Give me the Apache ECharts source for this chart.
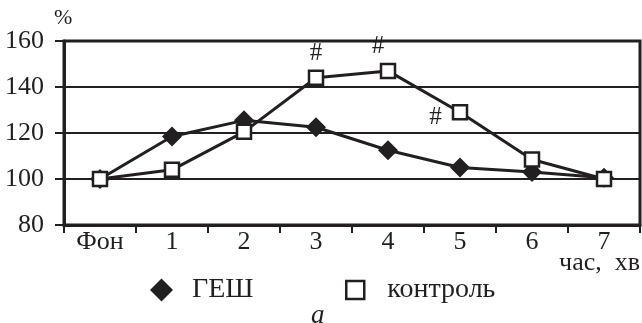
<!DOCTYPE html>
<html><head><meta charset="utf-8">
<script src="https://cdn.jsdelivr.net/npm/echarts@6/dist/echarts.min.js"></script>
<style>html,body{margin:0;padding:0;background:#fff}#c{width:642px;height:323px}</style>
</head><body><div id="c"></div>
<script>
const categories = ['Фон','1','2','3','4','5','6','7'];
const gesh = [100, 118.5, 125.5, 122.5, 112.5, 105, 103, 100.5];
const control = [100, 104, 120.5, 144, 147, 129, 108.5, 100];
const marks = {3:'top', 4:'top', 5:'left'};
const FONT = '"Liberation Serif", "DejaVu Serif", serif';
const INK = '#231f20';
const controlData = control.map((v,i)=>{
  if(marks[i]){
    return {value:v, label:{show:true, formatter:'#', position:marks[i],
      distance: marks[i]==='left'?10:4, offset: i===4?[-10,0]:(i===5?[0,5]:[0,0]),
      fontFamily:FONT, fontSize:25, color:INK}};
  }
  return v;
});
const chart = echarts.init(document.getElementById('c'));
chart.setOption({
  animation:false,
  grid:{left:64,right:2,top:41,bottom:98,show:true,borderColor:INK,borderWidth:3,
    containLabel:false,outerBoundsMode:'none'},
  xAxis:{type:'category',data:categories,boundaryGap:true,
    axisLine:{lineStyle:{color:INK,width:3}},
    axisTick:{show:true,interval:0,length:8,lineStyle:{color:INK,width:2}},
    axisLabel:{fontFamily:FONT,fontSize:26,color:INK,margin:4,interval:0}
  },
  yAxis:{type:'value',min:80,max:160,interval:20,
    axisLine:{show:true,lineStyle:{color:INK,width:3}},
    axisTick:{show:true,length:9,lineStyle:{color:INK,width:2}},
    axisLabel:{fontFamily:FONT,fontSize:26,color:INK,margin:20},
    splitLine:{lineStyle:{color:INK,width:2}},
    name:'%',nameLocation:'end',nameGap:12,
    nameTextStyle:{fontFamily:FONT,fontSize:22,color:INK,align:'left',padding:[0,0,0,-10]}
  },
  legend:[
    {left:150,top:276,padding:0,itemWidth:23,itemHeight:23,selectedMode:false,
      textStyle:{fontFamily:FONT,fontSize:28,color:INK,padding:[0,0,0,14]},
      data:[{name:'ГЕШ',icon:'diamond',itemStyle:{color:INK,borderWidth:0}}]},
    {left:345,top:276,padding:0,itemWidth:18,itemHeight:18,selectedMode:false,
      textStyle:{fontFamily:FONT,fontSize:28,color:INK,padding:[0,0,0,18]},
      data:[{name:'контроль',icon:'rect',itemStyle:{color:'#fff',borderColor:INK,borderWidth:2.5}}]}
  ],
  graphic:[
    {type:'text',left:311,top:302,style:{text:'а',fontFamily:FONT,fontStyle:'italic',fontSize:27,fill:INK}},
    {type:'text',right:2,top:250,style:{text:'час,  хв',fontFamily:FONT,fontSize:26,fill:INK}}
  ],
  series:[
    {name:'ГЕШ',type:'line',data:gesh,symbol:'diamond',symbolSize:20,
      lineStyle:{color:INK,width:3},itemStyle:{color:INK},z:2},
    {name:'контроль',type:'line',data:controlData,symbol:'rect',symbolSize:14,
      lineStyle:{color:INK,width:3},itemStyle:{color:'#fff',borderColor:INK,borderWidth:2.5},z:3}
  ]
});
</script></body></html>
